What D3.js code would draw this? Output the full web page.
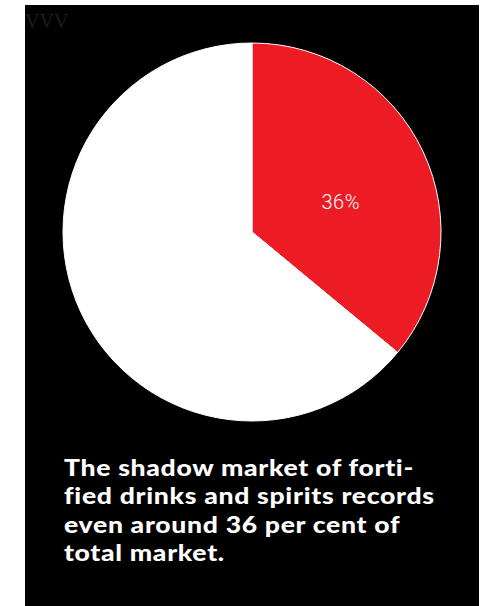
<!DOCTYPE html>
<html>
<head>
<meta charset="utf-8">
<script src="https://cdn.jsdelivr.net/npm/d3@7"></script>
<style>
html,body{margin:0;padding:0;background:#fff;}
svg{display:block;}
</style>
</head>
<body>
<svg id="chart" width="490" height="606"></svg>
<script>
const categories = ["Shadow market", "Legal market"];
const values = [36, 64];
const colors = ["#ED1C24", "#FFFFFF"];
const labels = ["36%", ""];
const captionLines = [
  "The shadow market of forti-",
  "fied drinks and spirits records",
  "even around 36 per cent of",
  "total market."
];
const watermark = "VVV";

const svg = d3.select("#chart");
svg.append("rect").attr("x", 25).attr("y", 5).attr("width", 454).attr("height", 606).attr("fill", "#000");

svg.append("text").attr("x", 25).attr("y", 28)
  .attr("font-family", "'Liberation Serif', 'DejaVu Serif', serif")
  .attr("font-size", 20).attr("fill", "#1e1e1e").text(watermark);

const cx = 252, cy = 232, r = 189;
const pie = d3.pie().sort(null).value(d => d)(values);
const arc = d3.arc().innerRadius(0).outerRadius(r);
const labelArc = d3.arc().innerRadius(98).outerRadius(98);

const g = svg.append("g").attr("transform", `translate(${cx},${cy})`);
g.selectAll("path").data(pie).join("path")
  .attr("d", arc)
  .attr("fill", (d, i) => colors[i])
  .attr("stroke", "#fff").attr("stroke-width", 1);

g.selectAll("text.lbl").data(pie).join("text").attr("class", "lbl")
  .attr("transform", d => `translate(${labelArc.centroid(d)})`)
  .attr("dy", 19)
  .attr("text-anchor", "middle")
  .attr("font-family", "Roboto, sans-serif").attr("font-weight", 300)
  .attr("font-size", 20).attr("letter-spacing", 0.5).attr("fill", "#fff")
  .text((d, i) => labels[i]);

const cap = svg.append("g");
const capTexts = cap.selectAll("text").data(captionLines).join("text")
  .attr("x", 0).attr("y", (d, i) => 476 + i * 28.5)
  .attr("font-family", "Lato, sans-serif").attr("font-weight", 900)
  .attr("font-size", 23).attr("letter-spacing", 0.6).attr("fill", "#fff")
  .text(d => d);

// widen the caption glyphs so the longest line spans the same width as in the reference
const target = 371;
const w2 = capTexts.nodes()[1].getComputedTextLength();
const sx = target / w2;
cap.attr("transform", `translate(64,0) scale(${sx},1)`);
</script>
</body>
</html>
